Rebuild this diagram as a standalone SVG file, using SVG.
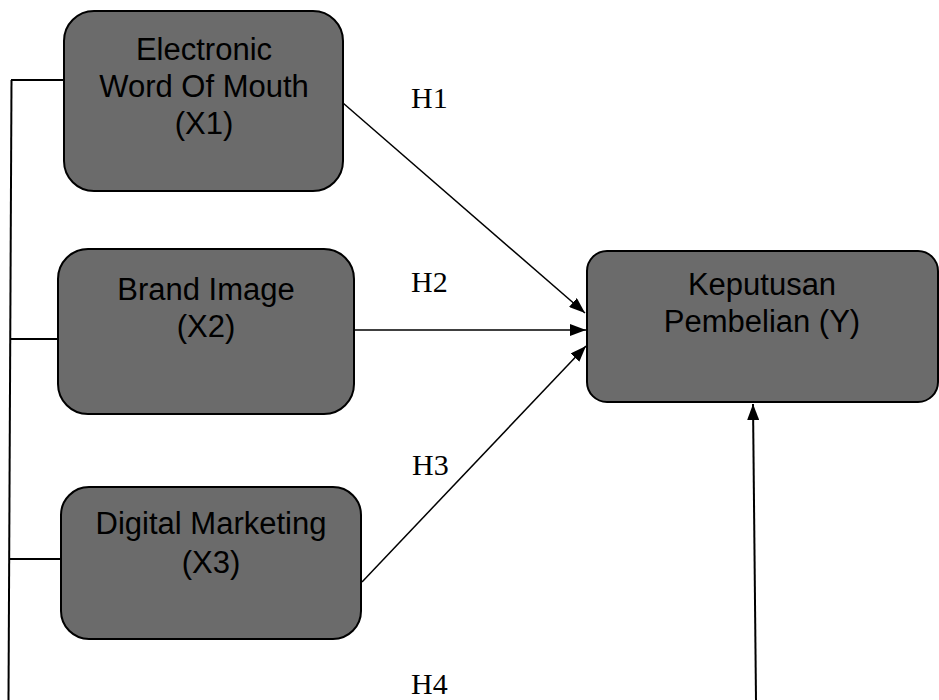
<svg xmlns="http://www.w3.org/2000/svg" width="939" height="700" viewBox="0 0 939 700">
<style>
.box{fill:#6b6b6b;stroke:#000;stroke-width:2}
.lbl{font-family:"Liberation Sans",Arial,sans-serif;font-size:31px;fill:#000;text-anchor:middle}
.h{font-family:"Liberation Serif","Times New Roman",serif;font-size:30px;fill:#000}
.ln{stroke:#000;stroke-width:1.5;fill:none}
.bk{stroke:#000;stroke-width:2;fill:none}
</style>
<defs>
<marker id="arrL" viewBox="0 0 16 12" refX="16" refY="6" markerWidth="16" markerHeight="12" markerUnits="userSpaceOnUse" orient="auto">
<path d="M0,0 L16,6 L0,12 z" fill="#000"/>
</marker>
</defs>
<g id="connectors">
<path class="bk" d="M11.5,80 L8.5,700"/>
<line class="bk" x1="11" y1="80" x2="64" y2="80"/>
<line class="bk" x1="10" y1="339" x2="58" y2="339"/>
<line class="bk" x1="9" y1="559" x2="61" y2="559"/>
<line class="ln" x1="343" y1="103" x2="585" y2="313" marker-end="url(#arrL)"/>
<line class="ln" x1="354" y1="330" x2="586" y2="330" marker-end="url(#arrL)"/>
<line class="ln" x1="362" y1="582" x2="586" y2="346" marker-end="url(#arrL)"/>
<line class="bk" x1="756" y1="700" x2="753" y2="404" marker-end="url(#arrL)"/>
</g>
<g id="x1">
<rect class="box" x="64" y="11" width="279" height="180" rx="30" ry="30"/>
<text class="lbl" x="204" y="60">Electronic</text>
<text class="lbl" x="204" y="97">Word Of Mouth</text>
<text class="lbl" x="204" y="134">(X1)</text>
</g>
<g id="x2">
<rect class="box" x="58" y="249" width="296" height="165" rx="30" ry="30"/>
<text class="lbl" x="206" y="300">Brand Image</text>
<text class="lbl" x="206" y="337">(X2)</text>
</g>
<g id="x3">
<rect class="box" x="61" y="487" width="300" height="152" rx="28" ry="28"/>
<text class="lbl" x="211" y="534">Digital Marketing</text>
<text class="lbl" x="211" y="573">(X3)</text>
</g>
<g id="y">
<rect class="box" x="587" y="251" width="351" height="151" rx="20" ry="20"/>
<text class="lbl" x="762" y="295">Keputusan</text>
<text class="lbl" x="762" y="332">Pembelian (Y)</text>
</g>
<g id="labels">
<text class="h" x="411" y="108">H1</text>
<text class="h" x="411" y="292">H2</text>
<text class="h" x="412" y="475">H3</text>
<text class="h" x="411" y="694">H4</text>
</g>
</svg>
